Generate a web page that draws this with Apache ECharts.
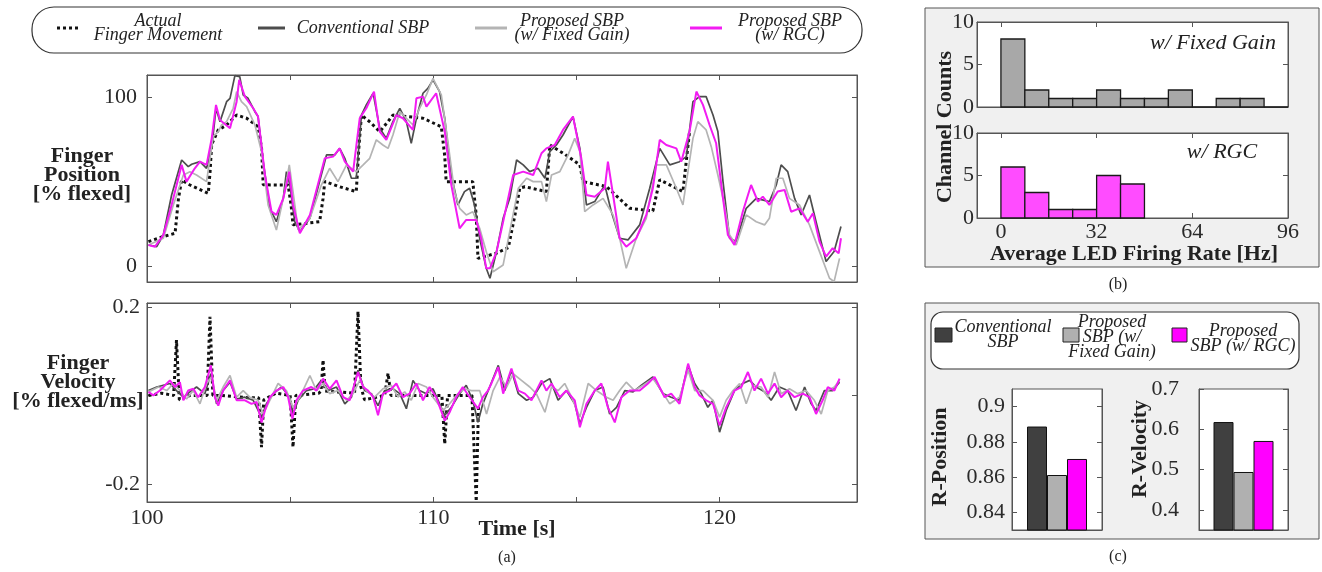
<!DOCTYPE html>
<html>
<head>
<meta charset="utf-8">
<script src="https://cdn.jsdelivr.net/npm/echarts@6/dist/echarts.min.js"></script>
<style>html,body{margin:0;padding:0;background:#fff}#main{width:1322px;height:572px}</style>
</head>
<body>
<div id="main"></div>
<script>
var SERIF = '"Liberation Serif","Times New Roman",serif';

// (a) finger position [% flexed], pairs of [time s, value]
var posActual = [[100.05,14.4],[100.57,17.4],[100.98,19.3],[101.10,40.0],[101.21,50.9],[101.50,47.9],[102.14,43.0],[102.20,55.0],[102.26,72.0],[102.49,80.5],[102.78,83.4],[103.13,89.3],[103.48,87.4],[103.88,82.4],[104.00,70.0],[104.06,48.0],[104.93,47.9],[105.04,35.0],[105.10,24.3],[106.03,26.2],[106.15,40.0],[106.21,50.0],[106.70,47.0],[107.31,44.0],[107.40,70.0],[107.49,89.3],[107.80,85.0],[108.13,79.5],[108.40,85.0],[108.59,89.3],[109.64,87.4],[110.28,82.4],[110.40,65.0],[110.45,49.9],[111.38,49.9],[111.50,30.0],[111.56,4.5],[112.20,7.5],[112.62,10.8],[112.85,30.0],[113.02,46.0],[113.20,46.9],[113.95,44.0],[114.07,71.6],[114.60,66.0],[115.12,59.8],[115.23,49.9],[116.05,47.0],[116.86,34.1],[117.67,32.5],[117.91,51.0],[118.72,44.0],[118.95,79.5]];
var posConv = [[100.05,12.4],[100.34,11.4],[100.57,18.3],[100.86,42.0],[101.21,62.7],[101.44,58.8],[101.56,60.2],[101.85,61.7],[102.08,57.8],[102.26,69.6],[102.41,93.3],[102.55,85.4],[102.78,97.2],[102.90,99.2],[103.07,112.6],[103.24,112.0],[103.36,101.2],[103.53,99.2],[103.77,91.3],[103.88,88.4],[104.06,61.7],[104.29,34.1],[104.52,26.2],[104.76,40.0],[104.87,55.8],[104.99,48.0],[105.16,26.2],[105.34,20.3],[105.69,28.2],[106.15,57.8],[106.27,65.7],[106.56,65.7],[106.73,69.6],[106.91,63.7],[107.14,51.9],[107.31,51.9],[107.49,89.3],[107.66,95.3],[107.90,102.2],[108.13,81.5],[108.36,75.5],[108.59,85.4],[108.83,93.3],[109.06,85.4],[109.23,72.6],[109.41,87.4],[109.64,102.2],[109.81,105.1],[109.99,110.1],[110.22,103.2],[110.40,87.4],[110.63,53.8],[110.86,36.1],[111.09,44.0],[111.27,46.0],[111.44,36.1],[111.62,16.4],[111.85,-1.4],[111.98,-7.3],[112.21,8.5],[112.44,28.2],[112.67,40.0],[112.91,62.7],[113.14,59.8],[113.37,55.8],[113.66,57.8],[113.90,51.9],[114.07,67.7],[114.30,71.6],[114.53,77.5],[114.88,88.4],[115.12,69.6],[115.35,36.1],[115.64,38.1],[115.99,47.9],[116.22,32.1],[116.51,16.4],[116.80,15.4],[117.21,24.3],[117.56,46.0],[117.91,69.6],[118.26,59.8],[118.60,61.7],[118.84,64.7],[119.07,97.2],[119.30,100.2],[119.53,100.2],[119.77,89.3],[119.94,79.5],[120.12,49.9],[120.35,16.4],[120.58,14.4],[120.93,34.1],[121.28,40.0],[121.74,38.1],[121.98,47.9],[122.15,59.8],[122.38,55.8],[122.62,40.0],[122.85,30.2],[123.14,42.0],[123.37,26.2],[123.72,2.6],[124.00,8.5],[124.24,23.3]];
var posFixed = [[100.05,12.4],[100.57,16.4],[100.92,36.1],[101.27,53.8],[101.50,55.8],[101.73,53.8],[102.08,49.9],[102.31,76.5],[102.49,79.5],[102.60,83.4],[102.78,85.4],[103.01,93.3],[103.13,103.2],[103.30,97.2],[103.48,94.3],[103.77,83.4],[104.00,67.7],[104.23,36.1],[104.52,21.3],[104.81,44.0],[104.97,59.8],[105.10,44.0],[105.28,21.3],[105.69,28.2],[106.09,47.9],[106.38,57.8],[106.67,49.9],[106.97,59.8],[107.31,55.8],[107.55,59.8],[107.78,63.7],[108.01,74.6],[108.24,71.6],[108.42,69.6],[108.59,77.5],[108.83,91.3],[109.06,87.4],[109.29,83.4],[109.52,93.3],[109.76,101.2],[109.99,111.0],[110.28,101.2],[110.51,73.6],[110.74,44.0],[110.92,34.1],[111.15,30.2],[111.38,32.1],[111.62,22.3],[111.86,8.0],[112.09,-3.4],[112.44,0.6],[112.67,20.3],[112.97,46.0],[113.26,51.9],[113.49,49.9],[113.78,49.9],[113.95,38.1],[114.13,53.8],[114.42,55.8],[114.71,65.7],[114.94,75.5],[115.12,67.7],[115.29,32.1],[115.58,36.1],[115.93,40.0],[116.28,30.2],[116.51,16.4],[116.74,-1.4],[117.09,16.4],[117.44,28.2],[117.79,59.8],[118.14,59.8],[118.49,46.0],[118.72,36.1],[119.07,75.5],[119.24,85.4],[119.53,80.5],[119.71,70.6],[119.94,53.8],[120.17,36.1],[120.35,18.3],[120.58,12.4],[120.93,30.2],[121.28,26.2],[121.57,24.3],[121.74,28.2],[121.98,51.9],[122.21,51.9],[122.44,40.0],[122.79,36.1],[123.14,24.3],[123.49,8.5],[123.84,-7.3],[124.00,-9.3],[124.19,4.5]];
var posRgc = [[100.05,12.4],[100.28,11.4],[100.57,18.3],[100.86,36.1],[101.21,59.8],[101.38,49.9],[101.67,57.8],[101.85,61.7],[102.08,59.8],[102.26,75.5],[102.41,95.3],[102.55,86.4],[102.90,81.5],[103.13,97.2],[103.22,110.1],[103.42,100.2],[103.71,93.3],[103.88,88.4],[104.12,53.8],[104.35,32.1],[104.52,30.2],[104.76,40.0],[104.97,55.8],[105.10,36.1],[105.34,19.3],[105.69,30.2],[106.21,63.7],[106.50,64.7],[106.73,69.6],[106.91,61.7],[107.20,55.8],[107.43,87.4],[107.66,93.3],[107.93,103.2],[108.13,79.5],[108.36,74.6],[108.71,89.3],[108.94,87.4],[109.29,80.5],[109.41,99.2],[109.64,100.2],[109.76,94.3],[110.10,102.2],[110.40,79.5],[110.63,47.9],[110.92,22.3],[111.15,27.2],[111.50,27.2],[111.67,16.4],[111.85,-1.4],[111.98,-1.4],[112.21,8.5],[112.44,26.2],[112.79,53.8],[113.14,55.8],[113.49,53.8],[113.78,66.7],[113.95,69.6],[114.24,71.6],[114.53,80.5],[114.88,88.4],[115.17,63.7],[115.35,42.0],[115.64,41.0],[115.99,46.0],[116.10,61.7],[116.28,42.0],[116.51,16.4],[116.74,11.4],[117.09,16.4],[117.44,30.2],[117.67,46.0],[117.91,74.6],[118.14,71.6],[118.49,69.6],[118.66,61.7],[118.95,79.5],[119.19,103.2],[119.42,95.3],[119.65,83.4],[119.88,72.6],[120.12,40.0],[120.29,18.3],[120.52,12.4],[120.81,32.1],[121.10,47.9],[121.34,38.1],[121.51,41.0],[121.74,36.1],[122.03,44.0],[122.27,45.0],[122.50,32.1],[122.79,34.1],[123.08,26.2],[123.26,31.2],[123.49,14.4],[123.72,5.5],[123.95,10.5],[124.16,7.5],[124.24,16.4]];

// (a) finger velocity [% flexed/ms]
var velActual = [[100.05,0.0],[100.50,0.005],[100.93,0.0],[101.03,0.125],[101.13,-0.01],[101.50,0.0],[102.10,0.0],[102.20,0.178],[102.30,0.0],[102.60,0.0],[103.50,-0.005],[103.90,-0.005],[104.00,-0.117],[104.08,-0.01],[104.50,0.005],[105.00,0.0],[105.10,-0.117],[105.20,0.0],[106.00,0.005],[106.08,0.01],[106.15,0.08],[106.22,0.01],[107.25,0.005],[107.37,0.19],[107.47,0.02],[107.60,-0.01],[108.30,0.0],[108.42,0.05],[108.52,0.0],[110.30,0.0],[110.40,-0.11],[110.50,0.0],[111.35,0.0],[111.50,-0.24],[111.58,-0.02]];
var velConv = [[100.05,0.011],[100.34,0.019],[100.57,0.023],[100.80,0.027],[101.03,0.011],[101.27,-0.004],[101.50,0.008],[101.73,0.019],[102.02,0.004],[102.23,0.049],[102.43,-0.019],[102.66,0.011],[102.90,0.030],[103.13,-0.008],[103.42,-0.004],[103.71,-0.011],[104.00,-0.049],[104.17,-0.019],[104.41,0.004],[104.70,0.019],[104.99,-0.004],[105.10,-0.042],[105.28,-0.011],[105.57,0.011],[105.86,0.015],[106.09,0.034],[106.33,0.011],[106.62,0.019],[106.91,-0.019],[107.14,-0.004],[107.37,0.057],[107.60,0.011],[107.84,0.004],[108.07,-0.023],[108.30,0.011],[108.59,0.015],[108.83,0.004],[109.06,-0.030],[109.29,0.034],[109.52,0.011],[109.76,0.004],[109.99,0.015],[110.40,-0.045],[110.63,-0.027],[110.92,0.004],[111.15,0.023],[111.38,-0.011],[111.56,-0.061],[111.73,-0.019],[111.97,0.019],[112.27,0.068],[112.50,0.011],[112.73,0.057],[112.97,0.004],[113.26,-0.011],[113.49,-0.004],[113.78,0.027],[114.07,0.038],[114.36,-0.011],[114.65,0.011],[114.94,-0.019],[115.12,-0.064],[115.35,-0.027],[115.64,0.011],[115.93,0.019],[116.16,-0.042],[116.40,-0.027],[116.69,0.011],[116.98,0.008],[117.27,0.023],[117.67,0.042],[118.02,0.004],[118.31,-0.004],[118.60,-0.011],[118.90,0.068],[119.13,0.027],[119.36,0.004],[119.59,-0.027],[119.77,-0.011],[120.00,-0.083],[120.23,-0.034],[120.52,0.011],[120.81,0.027],[121.05,0.034],[121.28,0.019],[121.57,0.008],[121.80,-0.011],[122.09,0.019],[122.38,0.011],[122.67,-0.034],[122.97,0.019],[123.20,-0.019],[123.37,-0.034],[123.66,0.011],[123.95,0.011],[124.19,0.030]];
var velFixed = [[100.05,0.008],[100.40,0.019],[100.69,0.011],[100.92,0.027],[101.15,0.011],[101.38,-0.008],[101.62,0.011],[101.85,-0.019],[102.08,0.027],[102.26,0.042],[102.43,-0.011],[102.66,0.019],[102.90,0.045],[103.13,-0.004],[103.36,0.011],[103.59,-0.004],[103.88,-0.011],[104.06,-0.042],[104.29,-0.011],[104.58,0.027],[104.87,0.011],[105.10,-0.027],[105.34,-0.004],[105.69,0.045],[105.92,0.011],[106.15,0.027],[106.38,0.004],[106.67,0.011],[106.97,-0.011],[107.20,0.004],[107.43,0.034],[107.66,0.011],[107.95,-0.004],[108.24,0.015],[108.53,0.023],[108.77,-0.004],[109.00,0.008],[109.23,-0.011],[109.47,0.027],[109.76,0.019],[109.99,-0.004],[110.34,-0.034],[110.57,-0.019],[110.86,0.004],[111.09,0.015],[111.33,0.011],[111.62,0.011],[111.86,-0.042],[112.09,0.011],[112.33,0.042],[112.56,0.019],[112.79,0.049],[113.08,0.034],[113.37,0.019],[113.60,0.004],[113.90,-0.038],[114.13,0.019],[114.36,0.011],[114.59,0.027],[114.83,-0.004],[115.12,-0.049],[115.41,0.027],[115.70,0.011],[116.05,-0.004],[116.28,-0.011],[116.51,0.011],[116.74,0.030],[117.03,0.011],[117.33,0.023],[117.67,0.038],[117.97,0.011],[118.26,-0.019],[118.60,-0.004],[118.90,0.057],[119.13,0.011],[119.42,0.011],[119.77,-0.011],[120.00,-0.049],[120.23,-0.011],[120.47,0.011],[120.70,0.027],[120.93,-0.019],[121.16,0.023],[121.45,0.019],[121.69,-0.004],[121.92,0.053],[122.15,0.004],[122.44,0.015],[122.73,0.004],[123.02,0.011],[123.31,-0.011],[123.55,-0.042],[123.78,0.011],[124.01,0.019],[124.19,0.034]];
var velRgc = [[100.05,0.008],[100.22,0.0],[100.45,0.011],[100.63,0.023],[100.80,0.034],[100.98,0.019],[101.15,0.030],[101.27,-0.011],[101.44,0.011],[101.62,0.015],[101.79,-0.004],[102.02,0.019],[102.23,0.068],[102.37,-0.004],[102.49,-0.023],[102.66,0.011],[102.90,0.034],[103.13,-0.011],[103.42,-0.011],[103.65,-0.019],[103.83,-0.015],[104.00,-0.061],[104.12,-0.034],[104.29,-0.004],[104.52,0.011],[104.76,0.019],[104.93,-0.004],[105.08,-0.053],[105.22,-0.011],[105.45,0.011],[105.74,0.019],[105.92,0.011],[106.15,0.038],[106.38,0.015],[106.62,0.034],[106.85,-0.004],[107.08,-0.011],[107.37,0.053],[107.55,0.019],[107.72,0.011],[107.90,-0.004],[108.07,-0.045],[108.24,0.004],[108.48,0.011],[108.71,0.027],[108.94,-0.004],[109.17,0.004],[109.41,0.027],[109.64,-0.011],[109.87,0.019],[110.10,-0.004],[110.40,-0.057],[110.57,-0.038],[110.80,-0.004],[111.03,0.019],[111.27,-0.004],[111.56,-0.030],[111.73,-0.004],[111.91,0.011],[112.03,0.027],[112.27,0.064],[112.44,0.004],[112.73,0.061],[112.97,0.011],[113.20,0.004],[113.43,-0.011],[113.78,0.034],[113.95,0.011],[114.13,0.027],[114.42,-0.004],[114.65,0.011],[114.94,-0.011],[115.12,-0.072],[115.35,-0.019],[115.64,0.011],[115.87,0.027],[116.10,-0.027],[116.34,-0.061],[116.57,-0.004],[116.86,0.011],[117.21,0.011],[117.50,0.027],[117.73,0.042],[118.08,-0.004],[118.31,0.004],[118.60,-0.019],[118.90,0.072],[119.13,0.019],[119.30,0.0],[119.53,-0.011],[119.77,-0.019],[120.00,-0.068],[120.23,-0.027],[120.52,0.011],[120.76,0.019],[120.99,0.053],[121.22,0.011],[121.45,0.038],[121.69,0.004],[121.92,0.027],[122.15,-0.004],[122.38,0.011],[122.62,-0.004],[122.91,0.004],[123.14,-0.004],[123.37,-0.042],[123.60,-0.011],[123.78,0.019],[124.01,0.011],[124.19,0.038]];

var timeTicks = [100,105,110,115,120];
var timeLabels = [100,110,120];

// (b) histogram of average LED firing rate
var binEdges = [0,8,16,24,32,40,48,56,64,72,80,88,96];
var fixedCounts = [8,2,1,1,2,1,1,2,0,1,1,0];
var rgcCounts = [6,3,1,1,5,4];
var rateTicks = [0,32,64,96];

// (c) correlation
var methods = ['Conventional SBP','Proposed SBP (w/ Fixed Gain)','Proposed SBP (w/ RGC)'];
var rPosition = [0.8887,0.8612,0.8703];
var rVelocity = [0.618,0.494,0.571];
var barColors = ['#404040','#b0b0b0','#ff00ff'];

function bins(counts){
  var out = [];
  for (var i = 0; i < counts.length; i++) out.push([binEdges[i], binEdges[i+1], counts[i]]);
  return out;
}

var xAxes = [], yAxes = [];
function valAxis(grid, pos, min, max, ticks, labels, size, margin){
  return {
    type:'value', gridIndex:grid, position:pos, min:min, max:max,
    axisLine:{show:true, onZero:false, lineStyle:{color:'#555', width:1}},
    axisTick:{show:true, inside:true, length:5, customValues:ticks, lineStyle:{color:'#555'}},
    axisLabel:{show:!!labels, customValues:labels || [], fontFamily:SERIF, fontSize:size || 22, color:'#2a2a2a', margin:margin || 6,
      formatter:function(v){ return String(+(+v).toFixed(3)); }},
    splitLine:{show:false}
  };
}
function addX(o){ xAxes.push(o); return xAxes.length - 1; }
function addY(o){ yAxes.push(o); return yAxes.length - 1; }

var pX = addX(valAxis(0,'bottom',100,124.8,timeTicks,null));
addX(valAxis(0,'top',100,124.8,timeTicks,null));
var pY = addY(valAxis(0,'left',-9.5,113,[0,100],[0,100],22,10));
addY(valAxis(0,'right',-9.5,113,[0,100],null));

var vX = addX(valAxis(1,'bottom',100,124.8,timeTicks,timeLabels,22,5));
addX(valAxis(1,'top',100,124.8,timeTicks,null));
var vY = addY(valAxis(1,'left',-0.241,0.209,[-0.2,0,0.2],[-0.2,0.2],22,7));
addY(valAxis(1,'right',-0.241,0.209,[-0.2,0,0.2],null));

var h1X = addX(valAxis(2,'bottom',-8,96,rateTicks,null));
addX(valAxis(2,'top',-8,96,rateTicks,null));
var h1Y = addY(valAxis(2,'left',0,10,[0,5,10],[0,5,10],22,3));
addY(valAxis(2,'right',0,10,[0,5,10],null));

var h2X = addX(valAxis(3,'bottom',-8,96,rateTicks,rateTicks,22,3));
addX(valAxis(3,'top',-8,96,rateTicks,null));
var h2Y = addY(valAxis(3,'left',0,10,[0,5,10],[0,5,10],22,3));
addY(valAxis(3,'right',0,10,[0,5,10],null));

function catAxis(grid){
  return {type:'category', gridIndex:grid, data:['R'], axisLine:{show:true, lineStyle:{color:'#555'}},
    axisTick:{show:false}, axisLabel:{show:false}};
}
var r1X = addX(catAxis(4));
var r1Y = addY(valAxis(4,'left',0.83,0.91,[0.84,0.86,0.88,0.9],[0.84,0.86,0.88,0.9],22,7));
addY(valAxis(4,'right',0.83,0.91,[0.84,0.86,0.88,0.9],null));
var r2X = addX(catAxis(5));
var r2Y = addY(valAxis(5,'left',0.35,0.7,[0.4,0.5,0.6,0.7],[0.4,0.5,0.6,0.7],22,20));
addY(valAxis(5,'right',0.35,0.7,[0.4,0.5,0.6,0.7],null));

function gridBox(left, top, width, height){
  return {left:left, top:top, width:width, height:height, show:true, backgroundColor:'#fff',
    borderColor:'#555', borderWidth:1, containLabel:false};
}

function lineSeries(name, data, xi, yi, color, width, dash, z){
  return {name:name, type:'line', data:data, xAxisIndex:xi, yAxisIndex:yi, symbol:'none', z:z,
    lineStyle:{color:color, width:width, type:dash || 'solid'}, animation:false};
}

function histSeries(counts, xi, yi, color){
  return {type:'custom', xAxisIndex:xi, yAxisIndex:yi, data:bins(counts), animation:false,
    renderItem:function(params, api){
      var a = api.coord([api.value(0), api.value(2)]);
      var b = api.coord([api.value(1), 0]);
      return {type:'rect', shape:{x:a[0], y:a[1], width:b[0]-a[0], height:b[1]-a[1]},
        style:{fill:color, stroke:'#1a1a1a', lineWidth:1.3}};
    }};
}

function barSeries(values, xi, yi){
  return methods.map(function(m, i){
    return {name:m, type:'bar', xAxisIndex:xi, yAxisIndex:yi, data:[values[i]], barWidth:20, barGap:'0%',
      itemStyle:{color:barColors[i], borderColor:'#111', borderWidth:1}, animation:false};
  });
}

var series = [
  lineSeries('Actual Finger Movement', posActual, pX, pY, '#111', 3, [3,3], 2),
  lineSeries('Conventional SBP', posConv, pX, pY, '#4d4d4d', 1.7, null, 3),
  lineSeries('Proposed SBP (w/ Fixed Gain)', posFixed, pX, pY, '#b4b4b4', 1.7, null, 4),
  lineSeries('Proposed SBP (w/ RGC)', posRgc, pX, pY, '#f21cf2', 2, null, 5),
  lineSeries('Actual Finger Movement', velActual, vX, vY, '#111', 3, [3,3], 2),
  lineSeries('Conventional SBP', velConv, vX, vY, '#4d4d4d', 1.7, null, 3),
  lineSeries('Proposed SBP (w/ Fixed Gain)', velFixed, vX, vY, '#b4b4b4', 1.7, null, 4),
  lineSeries('Proposed SBP (w/ RGC)', velRgc, vX, vY, '#f21cf2', 2, null, 5),
  histSeries(fixedCounts, h1X, h1Y, '#a8a8a8'),
  histSeries(rgcCounts, h2X, h2Y, '#ff4cff')
].concat(barSeries(rPosition, r1X, r1Y), barSeries(rVelocity, r2X, r2Y));

function txt(x, y, s, font, extra){
  var o = {type:'text', x:x, y:y, z:50, style:{text:s, font:font, fill:'#222',
    align:'center', verticalAlign:'middle', textAlign:'center', textVerticalAlign:'middle'}};
  if (extra) for (var k in extra) o[k] = extra[k];
  if (extra && extra.lineHeight) o.style.lineHeight = extra.lineHeight;
  return o;
}
function seg(x1, x2, y, color, width, dash){
  return {type:'line', z:50, shape:{x1:x1, y1:y, x2:x2, y2:y},
    style:{stroke:color, lineWidth:width, lineDash:dash || null}};
}
function box(x, y, w, h, color){
  return {type:'rect', z:50, shape:{x:x, y:y, width:w, height:h}, style:{fill:color, stroke:'#222', lineWidth:1}};
}

var IT = 'italic 18px ' + SERIF;
var BD = 'bold 22px ' + SERIF;
var graphics = [
  // panel backgrounds
  {type:'rect', z:-10, shape:{x:925, y:8, width:394, height:259}, style:{fill:'#f0f0f0', stroke:'#555', lineWidth:1}},
  {type:'rect', z:-10, shape:{x:925, y:303, width:394, height:236}, style:{fill:'#f0f0f0', stroke:'#555', lineWidth:1}},
  // legend (a)
  {type:'rect', z:40, shape:{x:32, y:7, width:830, height:46, r:22}, style:{fill:'#fff', stroke:'#333', lineWidth:1.2}},
  seg(57, 81, 28, '#111', 3, [3,3]),
  txt(158, 28, 'Actual\nFinger Movement', IT, {lineHeight:14}),
  seg(258, 285, 28, '#4d4d4d', 3),
  txt(363, 28, 'Conventional SBP', IT),
  seg(475, 507, 28, '#b4b4b4', 3),
  txt(572, 28, 'Proposed SBP\n(w/ Fixed Gain)', IT, {lineHeight:14}),
  seg(690, 722, 28, '#f21cf2', 3),
  txt(790, 28, 'Proposed SBP\n(w/ RGC)', IT, {lineHeight:14}),
  // axis titles (a)
  txt(82, 175, 'Finger\nPosition\n[% flexed]', BD, {lineHeight:19}),
  txt(78, 382, 'Finger\nVelocity\n[% flexed/ms]', BD, {lineHeight:19}),
  txt(517, 529, 'Time [s]', BD),
  txt(507, 558, '(a)', '16px ' + SERIF),
  // (b)
  txt(945, 127, 'Channel Counts', BD, {rotation:Math.PI/2}),
  txt(1134, 254, 'Average LED Firing Rate [Hz]', BD),
  txt(1213, 43, 'w/ Fixed Gain', 'italic 22px ' + SERIF),
  txt(1222, 152, 'w/ RGC', 'italic 22px ' + SERIF),
  txt(1118, 285, '(b)', '16px ' + SERIF),
  // (c)
  {type:'rect', z:40, shape:{x:931, y:312, width:368, height:57, r:12}, style:{fill:'#fff', stroke:'#333', lineWidth:1.2}},
  box(935, 328, 17, 14, barColors[0]),
  txt(1003, 335, 'Conventional\nSBP', IT, {lineHeight:15}),
  box(1063, 328, 16, 14, barColors[1]),
  txt(1112, 337, 'Proposed\nSBP (w/\nFixed Gain)', IT, {lineHeight:15}),
  box(1172, 328, 15, 14, barColors[2]),
  txt(1243, 339, 'Proposed\nSBP (w/ RGC)', IT, {lineHeight:15}),
  txt(940, 457, 'R-Position', BD, {rotation:Math.PI/2}),
  txt(1140, 449, 'R-Velocity', BD, {rotation:Math.PI/2}),
  txt(1118, 557, '(c)', '16px ' + SERIF)
];

var chart = echarts.init(document.getElementById('main'), null, {renderer:'canvas'});
chart.setOption({
  animation:false,
  backgroundColor:'#fff',
  grid:[
    gridBox(147, 75, 710, 207),
    gridBox(147, 303, 710, 199),
    gridBox(977, 22, 311, 85),
    gridBox(977, 133, 311, 85),
    gridBox(1012, 389, 90, 141),
    gridBox(1199, 389, 89, 141)
  ],
  xAxis:xAxes,
  yAxis:yAxes,
  series:series,
  graphic:{elements:graphics}
});
</script>
</body>
</html>
